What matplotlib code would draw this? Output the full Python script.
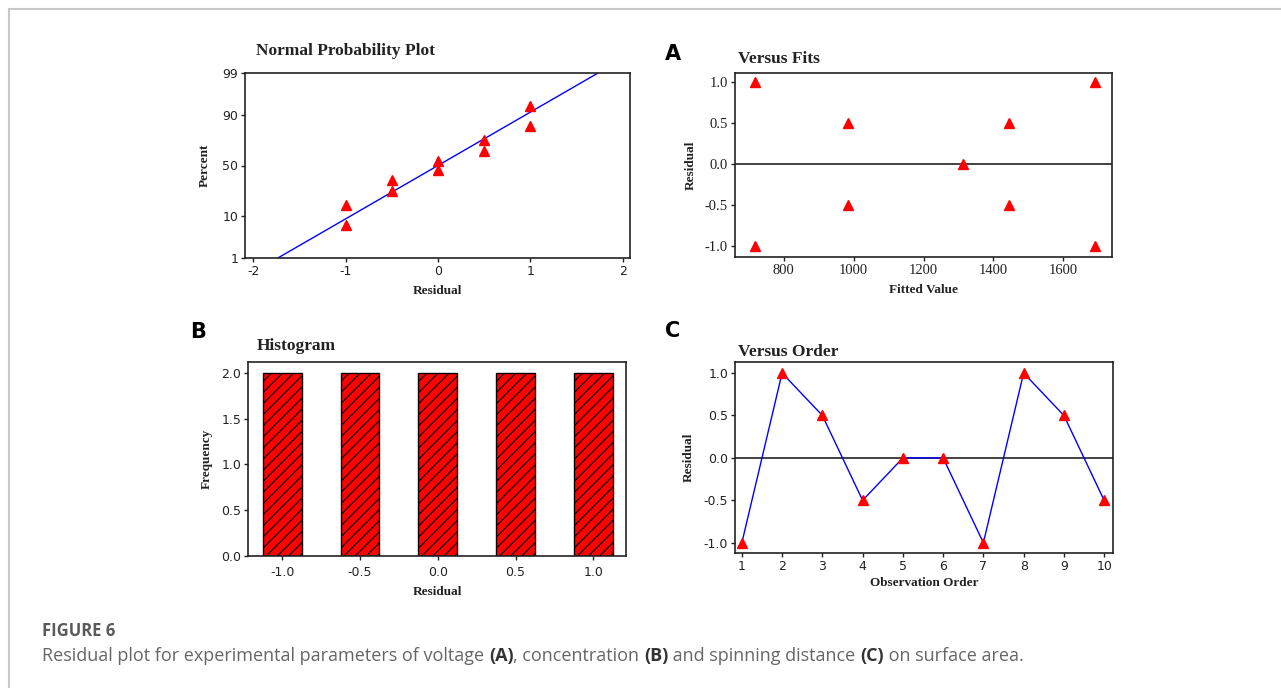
import math
import numpy as np
import matplotlib
matplotlib.use("Agg")
from matplotlib import pyplot as plt
from matplotlib.lines import Line2D

# ---- data ----
resid_sorted = [-1.0, -1.0, -0.5, -0.5, 0.0, 0.0, 0.5, 0.5, 1.0, 1.0]
percent_pos = [6.7, 16.3, 26.0, 35.6, 45.2, 54.8, 64.4, 74.0, 83.7, 93.3]
pct_ticks = [1, 10, 50, 90, 99]

fitted = [717, 717, 983, 983, 1314, 1446, 1446, 1690, 1690]
fit_resid = [1.0, -1.0, 0.5, -0.5, 0.0, 0.5, -0.5, 1.0, -1.0]

hist_bins = [-1.0, -0.5, 0.0, 0.5, 1.0]
hist_freq = [2, 2, 2, 2, 2]

order = [1, 2, 3, 4, 5, 6, 7, 8, 9, 10]
order_resid = [-1.0, 1.0, 0.5, -0.5, 0.0, 0.0, -1.0, 1.0, 0.5, -0.5]

W, H = 1281, 688
SERIF = "Liberation Serif"
TICKF = "DejaVu Sans"
plt.rcParams["axes.unicode_minus"] = False
plt.rcParams["hatch.linewidth"] = 0.8

_erf = np.vectorize(math.erf, otypes=[float])


def cdf(z):
    return 0.5 * (1 + _erf(np.asarray(z, float) / math.sqrt(2)))


def ppf(p):
    p = np.clip(np.asarray(p, float), 1e-9, 1 - 1e-9)
    lo = np.full_like(p, -10.0)
    hi = np.full_like(p, 10.0)
    for _ in range(60):
        mid = (lo + hi) / 2
        below = cdf(mid) < p
        lo = np.where(below, mid, lo)
        hi = np.where(below, hi, mid)
    return (lo + hi) / 2


def box(l, t, r, b):
    return [l / W, (H - b) / H, (r - l) / W, (b - t) / H]


def style(ax, tickfont=TICKF, size=9):
    for s in ax.spines.values():
        s.set_linewidth(1.2)
        s.set_color("#222222")
    ax.tick_params(direction="out", length=3, width=1, top=False, right=False,
                   labelsize=size, colors="#222222", pad=2)
    for lab in ax.get_xticklabels() + ax.get_yticklabels():
        lab.set_fontfamily(tickfont)


def ftext(x, y, s, **kw):
    return fig.text(x / W, (H - y) / H, s, **kw)


fig = plt.figure(figsize=(W / 100, H / 100), dpi=100)

# frame of the page
fig.add_artist(Line2D([9 / W, 1], [1 - 9 / H, 1 - 9 / H], color="#c8c8c8", lw=1.5))
fig.add_artist(Line2D([9 / W, 9 / W], [0, 1 - 9 / H], color="#c8c8c8", lw=1.5))

tri = dict(marker="^", color="red", ms=7.5, ls="none", zorder=5)
title_kw = dict(family=SERIF, weight="bold", fontsize=12.5, va="baseline", color="#222222")
lab_kw = dict(family=SERIF, weight="bold", fontsize=9.5, color="#222222")

# ---- normal probability plot ----
ax1 = fig.add_axes(box(245, 73, 630, 258))
ax1.set_yscale("function", functions=(lambda p: ppf(np.asarray(p) / 100.0),
                                      lambda z: 100 * cdf(z)))
mu = np.mean(resid_sorted)
sd = np.std(resid_sorted, ddof=1)
xx = np.linspace(-2.1, 2.1, 200)
ax1.plot(xx, 100 * cdf((xx - mu) / sd), color="blue", lw=1)
ax1.plot(resid_sorted, percent_pos, **tri)
ax1.set_xlim(-2.09, 2.08)
ax1.set_ylim(1, 99)
ax1.set_xticks([-2, -1, 0, 1, 2])
ax1.set_yticks(pct_ticks)
ax1.set_yticklabels([str(t) for t in pct_ticks])
ax1.yaxis.set_minor_locator(matplotlib.ticker.NullLocator())
ax1.set_xlabel("Residual", labelpad=5, **lab_kw)
ax1.set_ylabel("Percent", labelpad=8, **lab_kw)
style(ax1)
ftext(256, 55, "Normal Probability Plot", **title_kw)

# ---- versus fits ----
axA = fig.add_axes(box(735, 73, 1112, 257))
axA.axhline(0, color="#222222", lw=1.2)
axA.plot(fitted, fit_resid, **tri)
axA.set_xlim(660, 1740)
axA.set_ylim(-1.13, 1.11)
axA.set_xticks([800, 1000, 1200, 1400, 1600])
axA.set_yticks([-1.0, -0.5, 0.0, 0.5, 1.0])
axA.set_yticklabels(["-1.0", "-0.5", "0.0", "0.5", "1.0"])
axA.set_xlabel("Fitted Value", labelpad=5, **lab_kw)
axA.set_ylabel("Residual", labelpad=6, **lab_kw)
style(axA, tickfont=SERIF, size=10.5)
ftext(738, 63, "Versus Fits", **title_kw)

# ---- histogram ----
axB = fig.add_axes(box(248, 362, 626, 556))
axB.bar(hist_bins, hist_freq, width=0.25, color="red", edgecolor="black",
        hatch="///", lw=1)
axB.set_xlim(-1.22, 1.21)
axB.set_ylim(0, 2.12)
axB.set_xticks(hist_bins)
axB.set_xticklabels(["-1.0", "-0.5", "0.0", "0.5", "1.0"])
axB.set_yticks([0, 0.5, 1.0, 1.5, 2.0])
axB.set_yticklabels(["0.0", "0.5", "1.0", "1.5", "2.0"])
axB.set_xlabel("Residual", labelpad=5, **lab_kw)
axB.set_ylabel("Frequency", labelpad=6, **lab_kw)
style(axB)
axB.tick_params(axis="x", pad=4)
ftext(257, 350, "Histogram", **title_kw)

# ---- versus order ----
axC = fig.add_axes(box(735, 362, 1113, 553))
axC.axhline(0, color="#222222", lw=1.2)
axC.plot(order, order_resid, color="blue", lw=1)
axC.plot(order, order_resid, **tri)
axC.set_xlim(0.83, 10.22)
axC.set_ylim(-1.12, 1.13)
axC.set_xticks(order)
axC.set_yticks([-1.0, -0.5, 0.0, 0.5, 1.0])
axC.set_yticklabels(["-1.0", "-0.5", "0.0", "0.5", "1.0"])
axC.set_xlabel("Observation Order", labelpad=3, **lab_kw)
axC.set_ylabel("Residual", labelpad=6, **lab_kw)
style(axC)
ftext(738, 356, "Versus Order", **title_kw)

# panel letters
letter_kw = dict(family="DejaVu Sans", weight="bold", fontsize=15, va="baseline", color="black")
ftext(665, 60, "A", **letter_kw)
ftext(190, 338, "B", **letter_kw)
ftext(665, 337, "C", **letter_kw)

# caption
ftext(42, 636, "FIGURE 6", family="Open Sans", fontsize=12, weight="bold",
      color="#5a5a5a", va="baseline")
pieces = [("Residual plot for experimental parameters of voltage ", "normal"),
          ("(A)", "bold"), (", concentration ", "normal"), ("(B)", "bold"),
          (" and spinning distance ", "normal"), ("(C)", "bold"),
          (" on surface area.", "normal")]
renderer = fig.canvas.get_renderer()
x = 42
for s, w in pieces:
    t = ftext(x, 661, s, family="Open Sans", fontsize=13, weight=w,
              color="#333333" if w == "bold" else "#666666", va="baseline")
    x += t.get_window_extent(renderer).width

fig.savefig("out.png", dpi=100)
